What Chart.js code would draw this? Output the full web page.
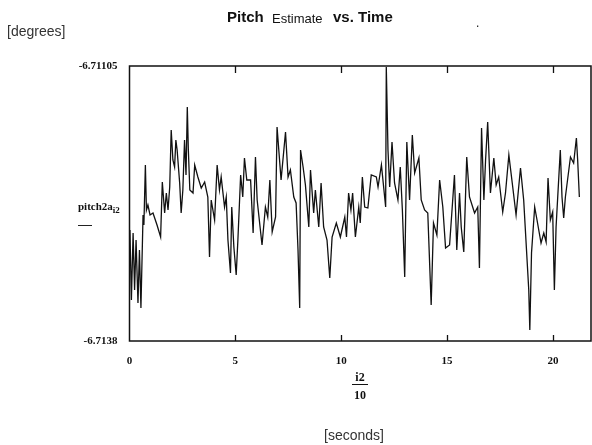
<!DOCTYPE html>
<html>
<head>
<meta charset="utf-8">
<script src="https://cdn.jsdelivr.net/npm/chart.js@4.4.1/dist/chart.umd.min.js"></script>
<style>
  body { margin: 0; background: #fff; }
  #wrap { position: relative; width: 592px; height: 445px; background: #fff; }
  #wrap canvas { position: absolute; left: 0; top: 0; }
  .lbl { position: absolute; white-space: nowrap; color: #111; }
  .sans { font-family: "Liberation Sans", Arial, sans-serif; }
  .serif { font-family: "Liberation Serif", "Times New Roman", serif; font-weight: bold; }
</style>
</head>
<body>
<div id="wrap">
  <canvas id="pitchChart" width="592" height="445"></canvas>

  <div class="lbl sans" style="left:7px; top:23px; font-size:14px; color:#333;">[degrees]</div>

  <!-- title, three parts like the scan -->
  <div class="lbl sans" style="left:227px; top:8px; font-size:15px; font-weight:bold;">Pitch</div>
  <div class="lbl sans" style="left:272px; top:11px; font-size:13px;">Estimate</div>
  <div class="lbl sans" style="left:333px; top:8px; font-size:15px; font-weight:bold;">vs. Time</div>
  <div class="lbl sans" style="left:476px; top:16px; font-size:12px;">.</div>

  <!-- mathcad style y label -->
  <div class="lbl serif" style="left:78px; top:200px; font-size:11px;">pitch2a<sub style="font-size:9px;">i2</sub></div>
  <div style="position:absolute; left:78px; top:225px; width:14px; height:1px; background:#222;"></div>

  <!-- x label i2/10 -->
  <div class="lbl serif" style="left:352px; top:371px; width:16px; text-align:center; font-size:12px; border-bottom:1.5px solid #111; line-height:13px;">i2</div>
  <div class="lbl serif" style="left:352px; top:389px; width:16px; text-align:center; font-size:12px; line-height:13px;">10</div>

  <div class="lbl sans" style="left:324px; top:427px; font-size:14px; color:#333;">[seconds]</div>
</div>

<script>
// time (s) = i2/10 at the turning points of the trace
const times = [
  0.02, 0.09, 0.17, 0.24, 0.31, 0.40, 0.47, 0.54, 0.64, 0.68,
  0.75, 0.80, 0.87, 0.97, 1.11, 1.30, 1.47, 1.55, 1.66, 1.74,
  1.82, 1.90, 1.97, 2.05, 2.13, 2.19, 2.25, 2.37, 2.44, 2.52,
  2.60, 2.67, 2.73, 2.78, 2.85, 3.00, 3.08, 3.23, 3.39, 3.55,
  3.70, 3.78, 3.86, 4.02, 4.14, 4.25, 4.33, 4.49, 4.57, 4.65,
  4.77, 4.83, 4.93, 5.04, 5.12, 5.25, 5.35, 5.43, 5.54, 5.72,
  5.84, 5.95, 6.03, 6.26, 6.42, 6.53, 6.63, 6.74, 6.90, 6.97,
  7.16, 7.37, 7.49, 7.60, 7.76, 7.87, 7.96, 8.04, 8.08, 8.20,
  8.31, 8.47, 8.55, 8.70, 8.78, 8.94, 9.05, 9.17, 9.33, 9.46,
  9.57, 9.77, 9.96, 10.17, 10.25, 10.35, 10.46, 10.54, 10.67, 10.83,
  10.90, 11.00, 11.11, 11.26, 11.42, 11.66, 11.74, 11.90, 12.10, 12.13,
  12.21, 12.29, 12.40, 12.52, 12.68, 12.79, 12.89, 13.00, 13.10, 13.23,
  13.36, 13.47, 13.67, 13.78, 13.94, 14.09, 14.25, 14.36, 14.52, 14.65,
  14.80, 14.93, 15.12, 15.35, 15.46, 15.59, 15.67, 15.79, 15.93, 16.06,
  16.30, 16.45, 16.53, 16.63, 16.74, 16.82, 16.92, 17.05, 17.21, 17.32,
  17.44, 17.63, 17.76, 17.92, 18.08, 18.26, 18.47, 18.62, 18.86, 18.91,
  18.99, 19.14, 19.25, 19.44, 19.57, 19.68, 19.77, 19.88, 19.99, 20.07,
  20.15, 20.35, 20.43, 20.51, 20.59, 20.83, 20.98, 21.11, 21.17, 21.25
];

// pitch estimate (degrees)
const pitch = [
  -6.71269, -6.71339, -6.71272, -6.71329, -6.71279, -6.71342, -6.71289, -6.71347, -6.71254, -6.71264,
  -6.71204, -6.71249, -6.71244, -6.71254, -6.71252, -6.71264, -6.71276, -6.71221, -6.71252, -6.71232,
  -6.71249, -6.71226, -6.71169, -6.71199, -6.71206, -6.71179, -6.71189, -6.71222, -6.71252, -6.71229,
  -6.71179, -6.71214, -6.71146, -6.71189, -6.71229, -6.71232, -6.71204, -6.71216, -6.71227, -6.71221,
  -6.71236, -6.71296, -6.71239, -6.71259, -6.71204, -6.71229, -6.71216, -6.71246, -6.71236, -6.71279,
  -6.71312, -6.71246, -6.71286, -6.71314, -6.71279, -6.71214, -6.71236, -6.71197, -6.71219, -6.71219,
  -6.71272, -6.71196, -6.71239, -6.71284, -6.71246, -6.71256, -6.71219, -6.71271, -6.71256, -6.71166,
  -6.71219, -6.71171, -6.71216, -6.71209, -6.71236, -6.71242, -6.71289, -6.71347, -6.71189, -6.71206,
  -6.71224, -6.71266, -6.71209, -6.71252, -6.71229, -6.71266, -6.71222, -6.71266, -6.71279, -6.71317,
  -6.71276, -6.71262, -6.71276, -6.71256, -6.71276, -6.71232, -6.71249, -6.71232, -6.71276, -6.71246,
  -6.71262, -6.71216, -6.71246, -6.71247, -6.71214, -6.71216, -6.71226, -6.71204, -6.71246, -6.71106,
  -6.71189, -6.71226, -6.71181, -6.71222, -6.71239, -6.71206, -6.71249, -6.71316, -6.71181, -6.71239,
  -6.71174, -6.71212, -6.71197, -6.71239, -6.71249, -6.71252, -6.71344, -6.71262, -6.71274, -6.71219,
  -6.71246, -6.71287, -6.71284, -6.71214, -6.71289, -6.71232, -6.71266, -6.71291, -6.71196, -6.71236,
  -6.71252, -6.71246, -6.71307, -6.71167, -6.71239, -6.71199, -6.71161, -6.71232, -6.71197, -6.71224,
  -6.71216, -6.71251, -6.71232, -6.71194, -6.71222, -6.71254, -6.71207, -6.71239, -6.71329, -6.71369,
  -6.71292, -6.71246, -6.71259, -6.71282, -6.71272, -6.71281, -6.71217, -6.71259, -6.71251, -6.71329,
  -6.71266, -6.71189, -6.71236, -6.71257, -6.71236, -6.71196, -6.71202, -6.71177, -6.71199, -6.71236
];

// axis ticks
const xTicks = [0, 5, 10, 15, 20];
const yTicks = [-6.7138, -6.71105];
const xMax = 21.8;

const points = times.map((t, i) => ({ x: t, y: pitch[i] }));

// frame box + inward tick marks (mathcad look)
const framePlugin = {
  id: 'frame',
  afterDraw(chart) {
    const { ctx, chartArea: a } = chart;
    const xs = chart.scales.x;
    ctx.save();
    ctx.strokeStyle = '#111';
    ctx.lineWidth = 1.5;
    ctx.strokeRect(a.left, a.top, a.right - a.left, a.bottom - a.top);
    ctx.lineWidth = 1.3;
    xTicks.forEach(v => {
      if (v === 0) return;
      const px = Math.round(xs.getPixelForValue(v)) + 0.5;
      ctx.beginPath();
      ctx.moveTo(px, a.bottom);
      ctx.lineTo(px, a.bottom - 6);
      ctx.moveTo(px, a.top);
      ctx.lineTo(px, a.top + 7);
      ctx.stroke();
    });
    ctx.restore();
  }
};

new Chart(document.getElementById('pitchChart'), {
  type: 'line',
  data: {
    datasets: [{
      label: 'pitch2a',
      data: points,
      borderColor: '#111',
      borderWidth: 1.3,
      pointRadius: 0,
      tension: 0,
      fill: false
    }]
  },
  options: {
    responsive: false,
    animation: false,
    devicePixelRatio: 1,
    layout: { padding: { top: 66, left: 0, right: 1, bottom: 74 } },
    plugins: {
      legend: { display: false },
      tooltip: { enabled: false }
    },
    scales: {
      x: {
        type: 'linear',
        min: 0,
        max: xMax,
        border: { display: false },
        grid: { display: false },
        afterBuildTicks: s => { s.ticks = xTicks.map(v => ({ value: v })); },
        afterFit: s => { s.height = 30; },
        ticks: {
          color: '#111',
          padding: 6,
          font: { family: '"Liberation Serif", serif', size: 11, weight: 'bold' }
        }
      },
      y: {
        min: yTicks[0],
        max: yTicks[1],
        border: { display: false },
        grid: { display: false },
        afterBuildTicks: s => { s.ticks = yTicks.map(v => ({ value: v })); },
        afterFit: s => { s.width = 129.5; },
        ticks: {
          color: '#111',
          padding: 4,
          callback: v => String(v),
          font: { family: '"Liberation Serif", serif', size: 11, weight: 'bold' }
        }
      }
    }
  },
  plugins: [framePlugin]
});
</script>
</body>
</html>
